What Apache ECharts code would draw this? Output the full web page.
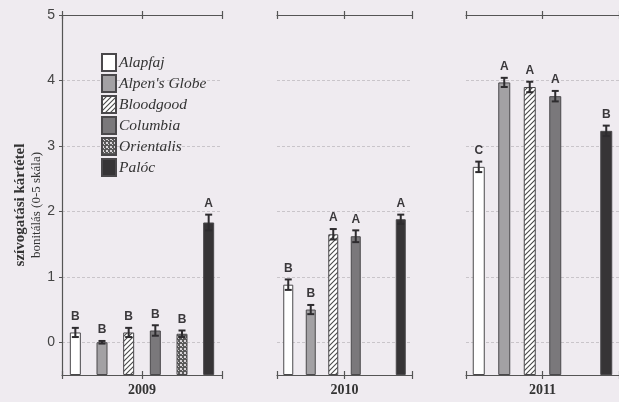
<!DOCTYPE html>
<html>
<head>
<meta charset="utf-8">
<script src="https://cdn.jsdelivr.net/npm/echarts@6/dist/echarts.min.js"></script>
<style>
  html, body { margin: 0; padding: 0; background: #efebf0; }
  #chart { width: 619px; height: 402px; }
</style>
</head>
<body>
<div id="chart"></div>
<script>
// Cultivars and seasons
const cultivars = ['Alapfaj', "Alpen's Globe", 'Bloodgood', 'Columbia', 'Orientalis', 'Palóc'];
const years = ['2009', '2010', '2011'];

// Mean damage score (0-5 scale), standard error and significance letters per season
const mean2009 = [0.15, 0.00, 0.15, 0.18, 0.13, 1.83];
const err2009  = [0.07, 0.02, 0.07, 0.08, 0.05, 0.12];
const sig2009  = ['B', 'B', 'B', 'B', 'B', 'A'];

const mean2010 = [0.88, 0.50, 1.65, 1.62, null, 1.88];
const err2010  = [0.08, 0.07, 0.08, 0.09, null, 0.07];
const sig2010  = ['B', 'B', 'A', 'A', null, 'A'];

const mean2011 = [2.68, 3.97, 3.90, 3.76, null, 3.23];
const err2011  = [0.08, 0.07, 0.08, 0.08, null, 0.08];
const sig2011  = ['C', 'A', 'A', 'A', null, 'B'];

const yTicks = [0, 1, 2, 3, 4, 5];

const seasons = [
  { year: years[0], mean: mean2009, err: err2009, sig: sig2009 },
  { year: years[1], mean: mean2010, err: err2010, sig: sig2010 },
  { year: years[2], mean: mean2011, err: err2011, sig: sig2011 }
];

// Fill patterns
function hatchPattern() {
  const c = document.createElement('canvas');
  c.width = 5; c.height = 5;
  const g = c.getContext('2d');
  g.fillStyle = '#ffffff'; g.fillRect(0, 0, 5, 5);
  g.strokeStyle = '#4a4a4a'; g.lineWidth = 1.1;
  g.beginPath();
  g.moveTo(-1, 6); g.lineTo(6, -1);
  g.moveTo(-1, 1); g.lineTo(1, -1);
  g.moveTo(4, 6); g.lineTo(6, 4);
  g.stroke();
  return { image: c, repeat: 'repeat' };
}
function dotPattern() {
  const c = document.createElement('canvas');
  c.width = 4; c.height = 4;
  const g = c.getContext('2d');
  g.fillStyle = '#5a5a5a'; g.fillRect(0, 0, 4, 4);
  g.fillStyle = '#d8d4d8';
  g.fillRect(0, 0, 2, 2);
  g.fillRect(2, 2, 1, 1);
  return { image: c, repeat: 'repeat' };
}

const fills = ['#ffffff', '#a3a1a4', hatchPattern(), '#7a787b', dotPattern(), '#363436'];

const boxes = [
  { left: 62, width: 160, barWidth: 11 },
  { left: 277, width: 135, barWidth: 10 },
  { left: 466, width: 160, barWidth: 12 }
];
const gridTop = 15, gridBottomY = 377;
const yMin = -0.5, yMax = 5;

const grid = [], xAxis = [], yAxis = [], series = [];
const AXES_PER_GRID = 5;

// frame line (top or bottom) with ticks at both ends and in the middle
function frameAxis(g, position, inside, showLine, extra) {
  return Object.assign({
    type: 'value', gridIndex: g, position: position, min: 0, max: 2, interval: 1,
    axisLine: { show: showLine, onZero: false, lineStyle: { color: '#555', width: 1.2 } },
    axisTick: { show: true, inside: inside, length: 4, lineStyle: { color: '#555', width: 1.2 } },
    axisLabel: { show: false }, splitLine: { show: false }
  }, extra || {});
}

seasons.forEach((s, g) => {
  const b = boxes[g];
  grid.push({ left: b.left, width: b.width, top: gridTop, height: gridBottomY - gridTop });

  // category axis carrying the bars (not drawn)
  xAxis.push({
    type: 'category', gridIndex: g, position: 'bottom', data: cultivars,
    axisLine: { show: false, onZero: false }, axisTick: { show: false },
    axisLabel: { show: false }, splitLine: { show: false }
  });
  xAxis.push(frameAxis(g, 'bottom', false, true, {
    name: s.year, nameLocation: 'middle', nameGap: 8,
    nameTextStyle: { fontFamily: 'Liberation Serif', fontWeight: 'bold', fontSize: 14, color: '#333', verticalAlign: 'top' }
  }));
  xAxis.push(frameAxis(g, 'bottom', true, false));
  xAxis.push(frameAxis(g, 'top', false, true));
  xAxis.push(frameAxis(g, 'top', true, false));

  const first = g === 0;
  yAxis.push({
    type: 'value', gridIndex: g, min: yMin, max: yMax, startValue: yMin,
    axisLine: { show: first, onZero: false, lineStyle: { color: '#555', width: 1.2 } },
    axisTick: { show: first, customValues: yTicks, length: 3, lineStyle: { color: '#555' } },
    axisLabel: { show: first, customValues: yTicks, margin: 7, fontFamily: 'Liberation Sans', fontSize: 14, color: '#444' },
    splitLine: { show: true, lineStyle: { color: '#c9c5ca', type: [3, 2], width: 1 } }
  });

  cultivars.forEach((name, i) => {
    series.push({
      type: 'bar', name: name, xAxisIndex: g * AXES_PER_GRID, yAxisIndex: g,
      barWidth: b.barWidth, barGap: '-100%',
      itemStyle: { color: fills[i], borderColor: '#4a484b', borderWidth: 1 },
      data: cultivars.map((_, j) => (j === i && s.mean[i] != null) ? s.mean[i] : '-'),
      z: 2
    });
  });

  // error bars and significance letters
  const pts = [], letters = [];
  s.mean.forEach((m, i) => {
    if (m == null) return;
    pts.push([i, m, s.err[i]]);
    letters.push(s.sig[i]);
  });
  series.push({
    type: 'custom', xAxisIndex: g * AXES_PER_GRID, yAxisIndex: g, z: 5, silent: true,
    encode: { x: 0, y: 1 },
    data: pts,
    renderItem: function (params, api) {
      const x = api.value(0), m = api.value(1), e = api.value(2);
      const top = api.coord([x, m + e]);
      const bot = api.coord([x, m - e]);
      const cx = top[0], hw = 3.5;
      const st = { stroke: '#2e2c2f', lineWidth: 2 };
      return {
        type: 'group',
        children: [
          { type: 'line', shape: { x1: cx, y1: top[1], x2: cx, y2: bot[1] }, style: st },
          { type: 'line', shape: { x1: cx - hw, y1: top[1], x2: cx + hw, y2: top[1] }, style: st },
          { type: 'line', shape: { x1: cx - hw, y1: bot[1], x2: cx + hw, y2: bot[1] }, style: st },
          { type: 'text', style: {
              text: letters[params.dataIndex], x: cx, y: top[1] - 5,
              align: 'center', verticalAlign: 'bottom',
              font: 'bold 12px "Liberation Sans"', fill: '#3a383b'
          } }
        ]
      };
    }
  });
});

const chart = echarts.init(document.getElementById('chart'), null, { renderer: 'canvas' });
chart.setOption({
  backgroundColor: '#efebf0',
  animation: false,
  grid: grid,
  xAxis: xAxis,
  yAxis: yAxis,
  legend: {
    data: cultivars, orient: 'vertical', left: 101, top: 53,
    itemWidth: 14, itemHeight: 17, itemGap: 2, icon: 'rect',
    padding: 0,
    textStyle: { fontFamily: 'Liberation Serif', fontStyle: 'italic', fontSize: 15.5, color: '#333', padding: [0, 0, 0, -2] }
  },
  graphic: [
    { type: 'text', x: 20, y: 205, rotation: Math.PI / 2,
      style: { text: 'szívogatási kártétel', font: 'bold 15px "Liberation Serif"', fill: '#333', align: 'center', verticalAlign: 'middle' } },
    { type: 'text', x: 37, y: 205, rotation: Math.PI / 2,
      style: { text: 'bonitálás (0-5 skála)', font: '13px "Liberation Serif"', fill: '#333', align: 'center', verticalAlign: 'middle' } }
  ],
  series: series
});
</script>
</body>
</html>
